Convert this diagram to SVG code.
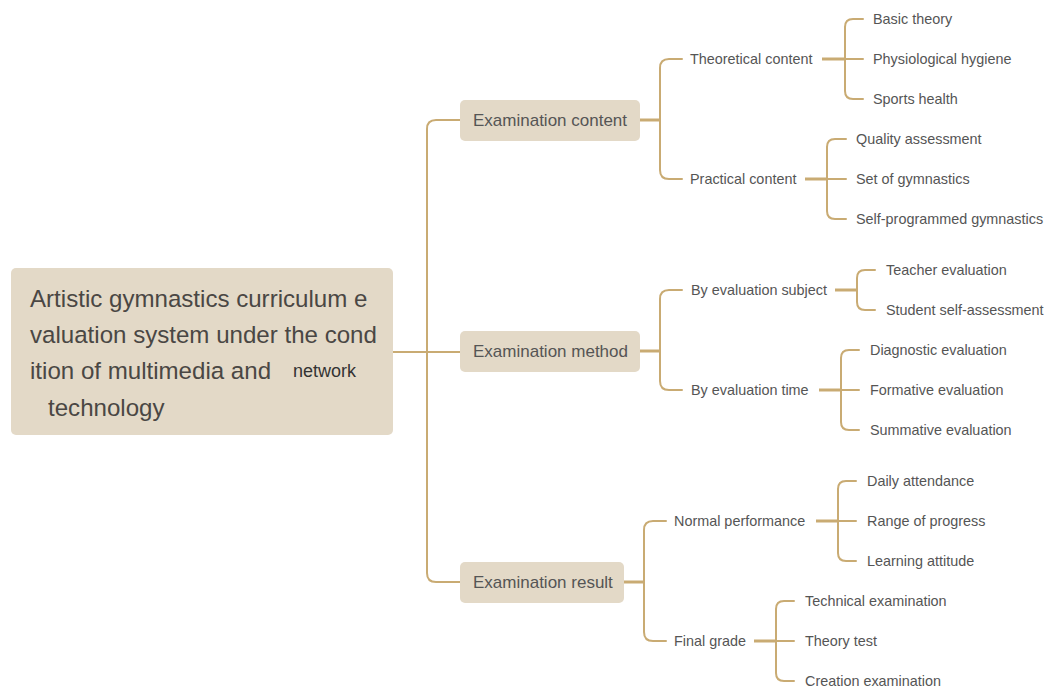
<svg xmlns="http://www.w3.org/2000/svg" width="1046" height="688" viewBox="0 0 1046 688">
<style>
.box{fill:#e3d9c7;}
.ln{fill:none;stroke:#c9ab73;stroke-width:2;stroke-linecap:round;}
.in{fill:none;stroke:#c9ab73;stroke-width:3;}
.root{font-family:"Liberation Sans",Arial,sans-serif;font-size:24.1px;fill:#4a4744;}
.l1{font-family:"Liberation Sans",Arial,sans-serif;font-size:17px;fill:#555;dominant-baseline:central;}
.l2{font-family:"Liberation Sans",Arial,sans-serif;font-size:14.4px;fill:#555;dominant-baseline:central;}
</style>
<rect width="1046" height="688" fill="#ffffff"/>
<g id="connectors">
  <path class="ln" d="M460,120 H436 Q427,120 427,129 V573 Q427,582 436,582 H460"/>
  <path class="ln" d="M393,352 H460"/>
  <path class="in" d="M640,120 H660"/>
  <path class="ln" d="M682,59 H669 Q660,59 660,68 V170 Q660,179 669,179 H682"/>
  <path class="in" d="M640,351 H660"/>
  <path class="ln" d="M682,290 H669 Q660,290 660,299 V381 Q660,390 669,390 H682"/>
  <path class="in" d="M624,582 H644"/>
  <path class="ln" d="M666,521 H653 Q644,521 644,530 V632 Q644,641 653,641 H666"/>
  <path class="in" d="M822,59 H845"/>
  <path class="ln" d="M863,19 H853 Q845,19 845,27 V91 Q845,99 853,99 H863 M845,59 H863"/>
  <path class="in" d="M805,179 H827"/>
  <path class="ln" d="M846,139 H835 Q827,139 827,147 V211 Q827,219 835,219 H846 M827,179 H846"/>
  <path class="in" d="M835,290 H857"/>
  <path class="ln" d="M875,270 H865 Q857,270 857,278 V302 Q857,310 865,310 H875"/>
  <path class="in" d="M819,390 H841"/>
  <path class="ln" d="M859,350 H849 Q841,350 841,358 V422 Q841,430 849,430 H859 M841,390 H859"/>
  <path class="in" d="M816,521 H838"/>
  <path class="ln" d="M856,481 H846 Q838,481 838,489 V553 Q838,561 846,561 H856 M838,521 H856"/>
  <path class="in" d="M754,641 H776"/>
  <path class="ln" d="M794,601 H784 Q776,601 776,609 V673 Q776,681 784,681 H794 M776,641 H794"/>
</g>
<g id="root">
  <rect class="box" x="11" y="268" width="382" height="167" rx="5"/>
  <text class="root" x="30" y="307">Artistic gymnastics curriculum e</text>
  <text class="root" x="30" y="343">valuation system under the cond</text>
  <text class="root" x="30" y="379">ition of multimedia and</text>
  <text x="293" y="377" style="font-family:'Liberation Sans',Arial,sans-serif;font-size:18px;fill:#333;">network</text>
  <text class="root" x="48" y="416">technology</text>
</g>
<g id="examination-content">
  <rect class="box" x="460" y="100" width="180" height="41" rx="5"/>
  <text class="l1" x="473" y="120.5">Examination content</text>
</g>
<g id="examination-method">
  <rect class="box" x="460" y="331" width="180" height="41" rx="5"/>
  <text class="l1" x="473" y="351.5">Examination method</text>
</g>
<g id="examination-result">
  <rect class="box" x="460" y="562" width="164" height="41" rx="5"/>
  <text class="l1" x="473" y="582.5">Examination result</text>
</g>
<g id="theoretical-content"><text class="l2" x="690" y="59">Theoretical content</text></g>
<g id="practical-content"><text class="l2" x="690" y="179">Practical content</text></g>
<g id="by-evaluation-subject"><text class="l2" x="691" y="290">By evaluation subject</text></g>
<g id="by-evaluation-time"><text class="l2" x="691" y="390">By evaluation time</text></g>
<g id="normal-performance"><text class="l2" x="674" y="521">Normal performance</text></g>
<g id="final-grade"><text class="l2" x="674" y="641">Final grade</text></g>
<g id="basic-theory"><text class="l2" x="873" y="19">Basic theory</text></g>
<g id="physiological-hygiene"><text class="l2" x="873" y="59">Physiological hygiene</text></g>
<g id="sports-health"><text class="l2" x="873" y="99">Sports health</text></g>
<g id="quality-assessment"><text class="l2" x="856" y="139">Quality assessment</text></g>
<g id="set-of-gymnastics"><text class="l2" x="856" y="179">Set of gymnastics</text></g>
<g id="self-programmed-gymnastics"><text class="l2" x="856" y="219">Self-programmed gymnastics</text></g>
<g id="teacher-evaluation"><text class="l2" x="886" y="270">Teacher evaluation</text></g>
<g id="student-self-assessment"><text class="l2" x="886" y="310">Student self-assessment</text></g>
<g id="diagnostic-evaluation"><text class="l2" x="870" y="350">Diagnostic evaluation</text></g>
<g id="formative-evaluation"><text class="l2" x="870" y="390">Formative evaluation</text></g>
<g id="summative-evaluation"><text class="l2" x="870" y="430">Summative evaluation</text></g>
<g id="daily-attendance"><text class="l2" x="867" y="481">Daily attendance</text></g>
<g id="range-of-progress"><text class="l2" x="867" y="521">Range of progress</text></g>
<g id="learning-attitude"><text class="l2" x="867" y="561">Learning attitude</text></g>
<g id="technical-examination"><text class="l2" x="805" y="601">Technical examination</text></g>
<g id="theory-test"><text class="l2" x="805" y="641">Theory test</text></g>
<g id="creation-examination"><text class="l2" x="805" y="681">Creation examination</text></g>
</svg>
